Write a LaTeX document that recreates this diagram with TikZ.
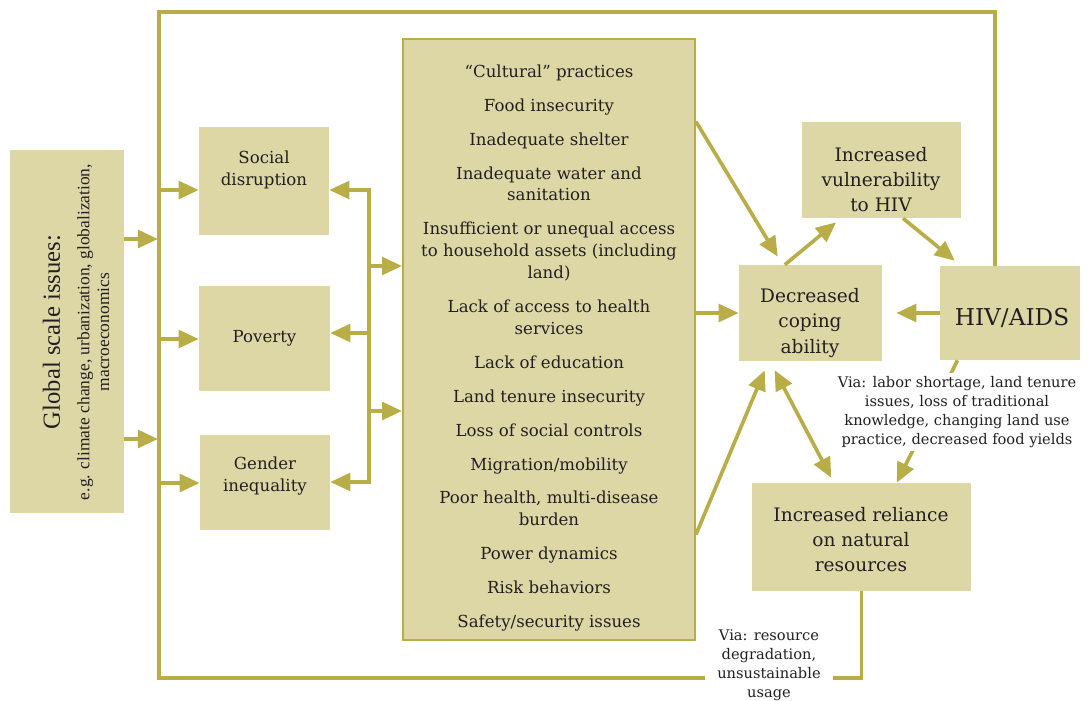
\documentclass[tikz,border=0pt]{standalone}
\usepackage{fontspec}
\setmainfont{DejaVu Serif}
\newfontfamily\globalfont{Liberation Serif}
\usepackage{xcolor}
\usetikzlibrary{arrows.meta}

\definecolor{ochre}{HTML}{B8AD47}
\definecolor{sand}{HTML}{DDD7A6}
\definecolor{ink}{HTML}{231F20}

\newcommand{\boxfont}{\fontsize{11.8}{15.6}\selectfont}
\newcommand{\bigfont}{\fontsize{13.2}{17.8}\selectfont}
\newcommand{\viafont}{\fontsize{10.4}{13.4}\selectfont}

\begin{document}
\begin{tikzpicture}[x=0.025cm, y=-0.025cm,
  box/.style={fill=sand, inner sep=0pt},
  txt/.style={align=center, text=ink, inner sep=0pt},
  link/.style={draw=ochre, line width=2.6pt},
  arr/.style={link, -{Triangle[length=0.5cm,width=0.44cm]}},
  via/.style={txt, fill=white, inner ysep=0.08cm, font=\viafont}]

  \useasboundingbox (0,0) rectangle (1087,700);

  % boxes
  \node[box, minimum width=2.85cm, minimum height=9.075cm] (global) at (67,331.5) {};
  \node[box, minimum width=3.25cm, minimum height=2.7cm] (social) at (264,181) {};
  \node[box, minimum width=3.275cm, minimum height=2.625cm] (poverty) at (264.5,338.5) {};
  \node[box, minimum width=3.25cm, minimum height=2.375cm] (gender) at (265,482.5) {};
  \node[box, draw=ochre, line width=1.3pt, minimum width=7.3cm, minimum height=15.025cm] (causes) at (549,339.5) {};
  \node[box, minimum width=3.575cm, minimum height=2.4cm] (coping) at (810.5,313) {};
  \node[box, minimum width=3.95cm, minimum height=2.4cm] (vuln) at (881.5,170) {};
  \node[box, minimum width=3.5cm, minimum height=2.35cm] (hiv) at (1010,313) {};
  \node[box, minimum width=5.45cm, minimum height=2.7cm] (reliance) at (861.5,537) {};

  % texts
  \node[txt, rotate=90, font=\globalfont\fontsize{12.4}{14}\selectfont] (global-t) at (76,332)
    {{\fontsize{17.5}{21}\selectfont Global scale issues:}\\[7pt]
     e.g. climate change, urbanization, globalization,\\ macroeconomics};
  \node[txt, font=\boxfont] (social-t) at (264,170) {Social\\disruption};
  \node[txt, font=\boxfont] (poverty-t) at (264.5,338) {Poverty};
  \node[txt, font=\boxfont] (gender-t) at (265,476) {Gender\\inequality};
  \node[txt, font=\boxfont] (causes-t) at (549,348) {“Cultural” practices\\[8.5pt]
    Food insecurity\\[8.5pt]
    Inadequate shelter\\[8.5pt]
    Inadequate water and\\sanitation\\[8.5pt]
    Insufficient or unequal access\\to household assets (including\\land)\\[8.5pt]
    Lack of access to health\\services\\[8.5pt]
    Lack of education\\[8.5pt]
    Land tenure insecurity\\[8.5pt]
    Loss of social controls\\[8.5pt]
    Migration/mobility\\[8.5pt]
    Poor health, multi-disease\\burden\\[8.5pt]
    Power dynamics\\[8.5pt]
    Risk behaviors\\[8.5pt]
    Safety/security issues};
  \node[txt, font=\bigfont] (coping-t) at (810,323) {Decreased\\coping\\ability};
  \node[txt, font=\bigfont] (vuln-t) at (881,180) {Increased\\vulnerability\\to HIV};
  \node[txt, font=\fontsize{16.5}{18}\selectfont] (hiv-t) at (1012,318) {HIV/AIDS};
  \node[txt, font=\bigfont] (reliance-t) at (861,540) {Increased reliance\\on natural\\resources};

  % frame and buses
  \coordinate (frame-bl) at (159,678);
  \coordinate (frame-tl) at (159,12);
  \coordinate (frame-tr) at (995,12);
  \coordinate (in-top) at (158,239);
  \coordinate (in-bot) at (158,439);
  \coordinate (busL-s) at (159,190);
  \coordinate (busL-p) at (159,339);
  \coordinate (busL-g) at (159,483);
  \coordinate (busR-s) at (369,190);
  \coordinate (busR-p) at (369,333);
  \coordinate (busR-g) at (369,482);
  \coordinate (busR-1) at (369,266);
  \coordinate (busR-2) at (369,411);

  \draw[link] (reliance.south) |- (frame-bl) -- (frame-tl) -- (frame-tr) -- (frame-tr |- hiv.north);
  \draw[link, line cap=rect] (busR-s) -- (busR-g);

  \draw[arr] (global.east |- in-top) -- (in-top);
  \draw[arr] (global.east |- in-bot) -- (in-bot);
  \draw[arr] (busL-s) -- (busL-s -| social.west);
  \draw[arr] (busL-p) -- (busL-p -| poverty.west);
  \draw[arr] (busL-g) -- (busL-g -| gender.west);
  \draw[arr] (busR-s) -- (busR-s -| social.east);
  \draw[arr] (busR-p) -- (busR-p -| poverty.east);
  \draw[arr] (busR-g) -- (busR-g -| gender.east);
  \draw[arr] (busR-1) -- (busR-1 -| causes.west);
  \draw[arr] (busR-2) -- (busR-2 -| causes.west);

  % right hand side
  \draw[arr, shorten >=0.235cm] (causes.56) -- (coping.120);
  \draw[arr] (causes.east |- coping.west) -- (coping.west);
  \draw[arr, shorten >=0.245cm] (causes.-53) -- (coping.229);
  \draw[arr, shorten >=0.16cm] (coping.118) -- (vuln.230);
  \draw[arr, shorten >=0.2cm] (vuln.294) -- (hiv.136);
  \draw[arr, shorten >=0.35cm] (hiv.west) -- (coping.east);
  \draw[link, {Triangle[length=0.5cm,width=0.44cm]}-{Triangle[length=0.5cm,width=0.44cm]},
    shorten <=0.25cm, shorten >=0.14cm] (coping.230) -- (reliance.117);
  \draw[arr] (hiv.222) -- (reliance.57);

  % labels on the links
  \node[via, inner xsep=0.1cm] (via-hiv) at (957,412)
    {Via: labor shortage, land tenure\\issues, loss of traditional\\knowledge, changing land use\\practice, decreased food yields};
  \node[via, inner xsep=0.31cm] (via-res) at (769,665)
    {Via: resource\\degradation,\\unsustainable\\usage};
\end{tikzpicture}
\end{document}
